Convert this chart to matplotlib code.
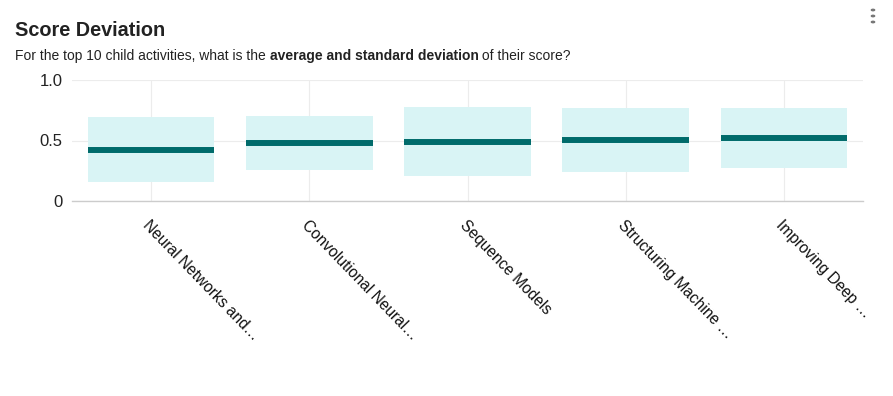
import matplotlib
matplotlib.use("Agg")
import matplotlib.pyplot as plt
from matplotlib.patches import Rectangle

plt.rcParams['font.family'] = ['Liberation Sans', 'DejaVu Sans']

categories = ["Neural Networks and…", "Convolutional Neural…", "Sequence Models",
              "Structuring Machine …", "Improving Deep …"]
means = [0.421, 0.479, 0.490, 0.507, 0.521]
upper = [0.694, 0.700, 0.777, 0.769, 0.769]
lower = [0.157, 0.256, 0.207, 0.240, 0.273]
yticks = [0, 0.5, 1.0]
ytick_labels = ["0", "0.5", "1.0"]

fig = plt.figure(figsize=(8.93, 3.96), dpi=100)
ax = fig.add_axes([72/893, 1-201/396, (863-72)/893, (201-80)/396])

width = 0.8
for i, (m, u, l) in enumerate(zip(means, upper, lower)):
    ax.add_patch(Rectangle((i - width/2, l), width, u - l, facecolor="#d9f4f5",
                           edgecolor="none", zorder=2))
    ax.hlines(m, i - width/2, i + width/2, colors="#006b6b", linewidth=4.3, zorder=3)

ax.set_xlim(-0.5, len(categories) - 0.5)
ax.set_ylim(0, 1.0)
ax.set_yticks(yticks)
ax.set_yticklabels(ytick_labels, fontsize=12, color="#222222")
ax.set_xticks(range(len(categories)))
ax.set_xticklabels(categories, rotation=-46, ha="left", va="top",
                   rotation_mode="anchor", fontsize=11.2, color="#111111")
ax.tick_params(axis="both", length=0)
ax.tick_params(axis="x", pad=12)
ax.tick_params(axis="y", pad=7)
ax.grid(True, color="#ececec", linewidth=0.8, zorder=0)
ax.set_axisbelow(True)
for s in ["top", "right", "left"]:
    ax.spines[s].set_visible(False)
ax.spines["bottom"].set_color("#cccccc")
ax.spines["bottom"].set_linewidth(1.0)

fig.text(15/893, 1-30/396, "Score Deviation", fontsize=14.3, fontweight="bold",
         color="#222222", va="center", ha="left")
t1 = fig.text(15/893, 1-56/396, "For the top 10 child activities, what is the ", fontsize=10,
              color="#222222", va="center", ha="left")
fig.canvas.draw()
bb = t1.get_window_extent()
t2 = fig.text(bb.x1/893, 1-56/396, "average and standard deviation", fontsize=10,
              fontweight="bold", color="#222222", va="center", ha="left")
fig.canvas.draw()
bb2 = t2.get_window_extent()
fig.text(bb2.x1/893, 1-56/396, " of their score?", fontsize=10,
         color="#222222", va="center", ha="left")

# three-dot menu
for k in range(3):
    fig.patches.append(matplotlib.patches.Circle((873/893, 1-(10+6*k)/396), 1.6/893,
                       transform=fig.transFigure, color="#777777"))

fig.savefig("out.png", dpi=100)
